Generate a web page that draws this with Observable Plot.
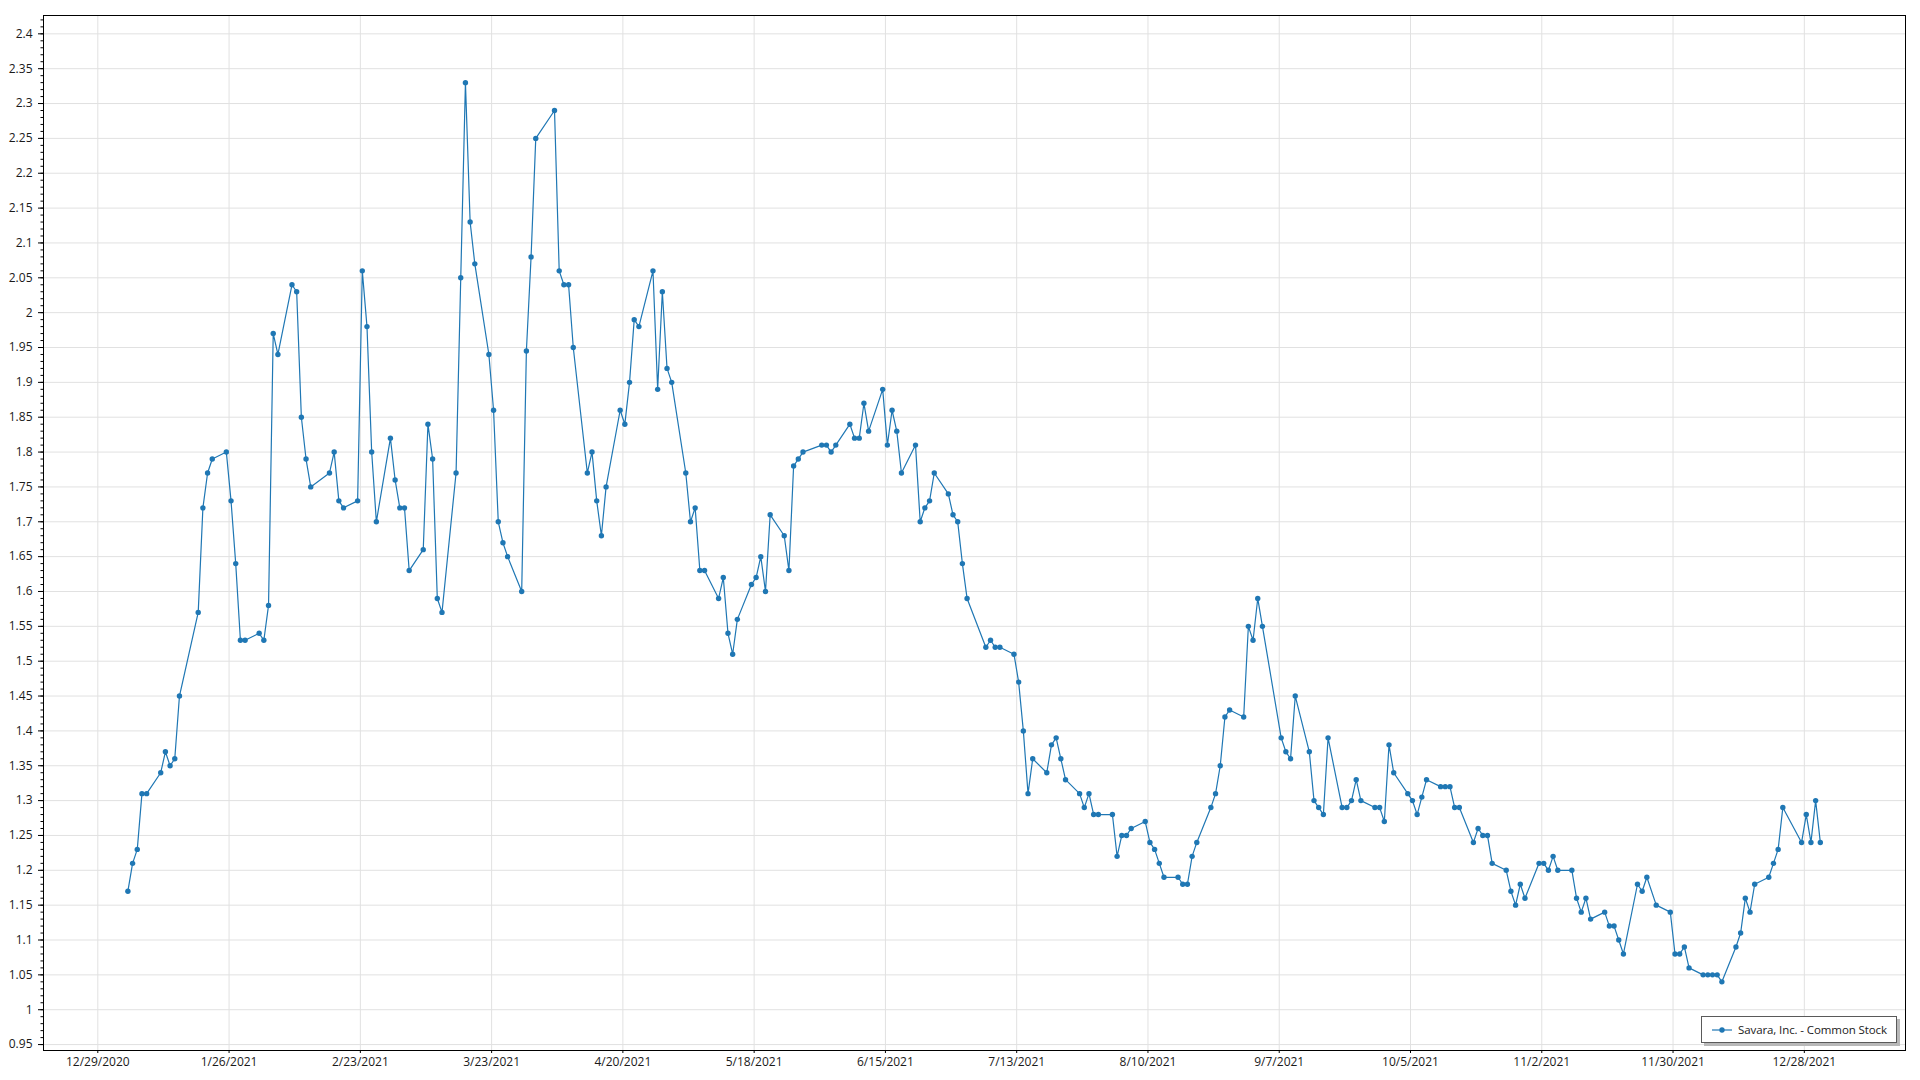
<!DOCTYPE html>
<html>
<head>
<meta charset="utf-8">
<script src="https://cdn.jsdelivr.net/npm/d3@7"></script>
<script src="https://cdn.jsdelivr.net/npm/@observablehq/plot@0.6"></script>
<style>
  html, body { margin: 0; padding: 0; background: #fff; overflow: hidden; }
  #wrap { position: relative; width: 1920px; height: 1080px; }
  #legend {
    position: absolute; left: 1701px; top: 1016px; width: 194px; height: 25px;
    border: 1.5px solid #5a5a5a; background: #fff; box-shadow: 3px 3px 0 #b8b8b8;
    font-family: "Segoe UI", "Open Sans", sans-serif; font-size: 11.5px; color: #1a1a1a;
    letter-spacing: -0.1px; white-space: nowrap;
    display: flex; align-items: center; box-sizing: content-box;
  }
  #legend svg { margin-left: 9px; margin-right: 5px; flex: none; }
</style>
</head>
<body>
<div id="wrap"></div>
<script>
// ---- Data (2021 daily closing prices) ----
const seriesName = "Savara, Inc. - Common Stock";
const year = 2021;
const jan = [[4,1.17],[5,1.21],[6,1.23],[7,1.31],[8,1.31],[11,1.34],[12,1.37],[13,1.35],[14,1.36],[15,1.45],[19,1.57],[20,1.72],[21,1.77],[22,1.79],[25,1.80],[26,1.73],[27,1.64],[28,1.53],[29,1.53]];
const feb = [[1,1.54],[2,1.53],[3,1.58],[4,1.97],[5,1.94],[8,2.04],[9,2.03],[10,1.85],[11,1.79],[12,1.75],[16,1.77],[17,1.80],[18,1.73],[19,1.72],[22,1.73],[23,2.06],[24,1.98],[25,1.80],[26,1.70]];
const mar = [[1,1.82],[2,1.76],[3,1.72],[4,1.72],[5,1.63],[8,1.66],[9,1.84],[10,1.79],[11,1.59],[12,1.57],[15,1.77],[16,2.05],[17,2.33],[18,2.13],[19,2.07],[22,1.94],[23,1.86],[24,1.70],[25,1.67],[26,1.65],[29,1.60],[30,1.945],[31,2.08]];
const apr = [[1,2.25],[5,2.29],[6,2.06],[7,2.04],[8,2.04],[9,1.95],[12,1.77],[13,1.80],[14,1.73],[15,1.68],[16,1.75],[19,1.86],[20,1.84],[21,1.90],[22,1.99],[23,1.98],[26,2.06],[27,1.89],[28,2.03],[29,1.92],[30,1.90]];
const may = [[3,1.77],[4,1.70],[5,1.72],[6,1.63],[7,1.63],[10,1.59],[11,1.62],[12,1.54],[13,1.51],[14,1.56],[17,1.61],[18,1.62],[19,1.65],[20,1.60],[21,1.71],[24,1.68],[25,1.63],[26,1.78],[27,1.79],[28,1.80]];
const jun = [[1,1.81],[2,1.81],[3,1.80],[4,1.81],[7,1.84],[8,1.82],[9,1.82],[10,1.87],[11,1.83],[14,1.89],[15,1.81],[16,1.86],[17,1.83],[18,1.77],[21,1.81],[22,1.70],[23,1.72],[24,1.73],[25,1.77],[28,1.74],[29,1.71],[30,1.70]];
const jul = [[1,1.64],[2,1.59],[6,1.52],[7,1.53],[8,1.52],[9,1.52],[12,1.51],[13,1.47],[14,1.40],[15,1.31],[16,1.36],[19,1.34],[20,1.38],[21,1.39],[22,1.36],[23,1.33],[26,1.31],[27,1.29],[28,1.31],[29,1.28],[30,1.28]];
const aug = [[2,1.28],[3,1.22],[4,1.25],[5,1.25],[6,1.26],[9,1.27],[10,1.24],[11,1.23],[12,1.21],[13,1.19],[16,1.19],[17,1.18],[18,1.18],[19,1.22],[20,1.24],[23,1.29],[24,1.31],[25,1.35],[26,1.42],[27,1.43],[30,1.42],[31,1.55]];
const sep = [[1,1.53],[2,1.59],[3,1.55],[7,1.39],[8,1.37],[9,1.36],[10,1.45],[13,1.37],[14,1.30],[15,1.29],[16,1.28],[17,1.39],[20,1.29],[21,1.29],[22,1.30],[23,1.33],[24,1.30],[27,1.29],[28,1.29],[29,1.27],[30,1.38]];
const oct = [[1,1.34],[4,1.31],[5,1.30],[6,1.28],[7,1.305],[8,1.33],[11,1.32],[12,1.32],[13,1.32],[14,1.29],[15,1.29],[18,1.24],[19,1.26],[20,1.25],[21,1.25],[22,1.21],[25,1.20],[26,1.17],[27,1.15],[28,1.18],[29,1.16]];
const nov = [[1,1.21],[2,1.21],[3,1.20],[4,1.22],[5,1.20],[8,1.20],[9,1.16],[10,1.14],[11,1.16],[12,1.13],[15,1.14],[16,1.12],[17,1.12],[18,1.10],[19,1.08],[22,1.18],[23,1.17],[24,1.19],[26,1.15],[29,1.14],[30,1.08]];
const dec = [[1,1.08],[2,1.09],[3,1.06],[6,1.05],[7,1.05],[8,1.05],[9,1.05],[10,1.04],[13,1.09],[14,1.11],[15,1.16],[16,1.14],[17,1.18],[20,1.19],[21,1.21],[22,1.23],[23,1.29],[27,1.24],[28,1.28],[29,1.24],[30,1.30],[31,1.24]];

const xTickLabels = ["12/29/2020","1/26/2021","2/23/2021","3/23/2021","4/20/2021","5/18/2021","6/15/2021","7/13/2021","8/10/2021","9/7/2021","10/5/2021","11/2/2021","11/30/2021","12/28/2021"];
const yTickLabels = [0.95,1,1.05,1.1,1.15,1.2,1.25,1.3,1.35,1.4,1.45,1.5,1.55,1.6,1.65,1.7,1.75,1.8,1.85,1.9,1.95,2,2.05,2.1,2.15,2.2,2.25,2.3,2.35,2.4];

// ---- Build table ----
const monthsArr = [jan, feb, mar, apr, may, jun, jul, aug, sep, oct, nov, dec];
const data = [];
monthsArr.forEach((arr, m) => arr.forEach(([d, p]) => data.push({date: new Date(Date.UTC(year, m, d, 10)), price: p})));

const parseLabel = s => { const [m, d, y] = s.split("/").map(Number); return new Date(Date.UTC(y, m - 1, d)); };
const xTicks = xTickLabels.map(parseLabel);
const fmtDate = t => `${t.getUTCMonth() + 1}/${t.getUTCDate()}/${t.getUTCFullYear()}`;
const minorY = d3.range(95, 243).map(i => i / 100);

const color = "#1f77b4";
const gridColor = "#e1e1e1";

const chart = Plot.plot({
  width: 1920,
  height: 1080,
  marginTop: 15,
  marginBottom: 30,
  marginLeft: 43,
  marginRight: 15,
  style: {fontFamily: "'Segoe UI', 'Open Sans', sans-serif", fontSize: "12px", color: "#1a1a1a", background: "#fff"},
  x: {type: "utc", domain: [new Date(Date.UTC(2020, 11, 17, 10)), new Date(Date.UTC(2022, 0, 18, 14))], label: null},
  y: {domain: [0.9415, 2.4263], label: null},
  marks: [
    Plot.gridY(yTickLabels, {stroke: gridColor, strokeOpacity: 1}),
    Plot.gridX(xTicks, {stroke: gridColor, strokeOpacity: 1}),
    Plot.axisY(minorY, {tickSize: 2.5, tickFormat: () => "", label: null, stroke: "#000"}),
    Plot.axisY(yTickLabels, {tickSize: 5, tickPadding: 6, tickFormat: d => String(+d.toFixed(2)), label: null, stroke: "#000"}),
    Plot.axisX(xTicks, {tickSize: 3, tickPadding: 4, tickFormat: fmtDate, label: null, stroke: "#000"}),
    Plot.frame({stroke: "#000", strokeWidth: 1}),
    Plot.lineY(data, {x: "date", y: "price", stroke: color, strokeWidth: 1.2}),
    Plot.dot(data, {x: "date", y: "price", r: 2.7, fill: color, stroke: "none"})
  ]
});

const wrap = document.getElementById("wrap");
wrap.appendChild(chart);

// ---- Legend ----
const legend = document.createElement("div");
legend.id = "legend";
legend.innerHTML = `<svg width="22" height="10"><line x1="1" y1="5" x2="21" y2="5" stroke="${color}" stroke-width="1.2"/><circle cx="11" cy="5" r="2.7" fill="${color}"/></svg><span>${seriesName}</span>`;
wrap.appendChild(legend);
</script>
</body>
</html>
